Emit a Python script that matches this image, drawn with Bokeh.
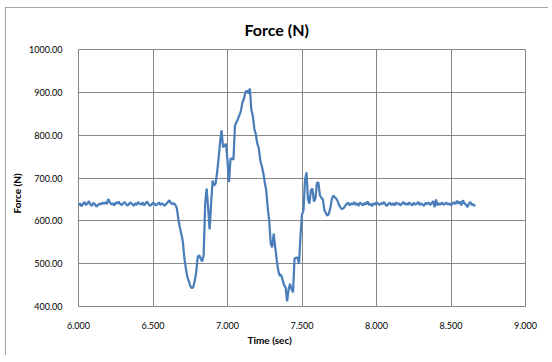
from bokeh.plotting import figure
from bokeh.models import Range1d, FixedTicker, NumeralTickFormatter, Title
from bokeh.embed import file_html
from bokeh.resources import INLINE

# ---- data ----
t_start = 6.00
t_step = 0.01
force_n = [
    # 6.00 - 6.66 baseline
    636, 641, 634, 639, 644, 637, 640, 646, 638, 635,
    642, 639, 633, 637, 640, 638, 642, 640, 643, 639,
    651, 644, 638, 641, 636, 643, 640, 645, 639, 637,
    641, 644, 638, 636, 640, 643, 639, 635, 641, 637,
    644, 640, 638, 643, 636, 641, 645, 639, 635, 638,
    642, 640, 636, 639, 643, 637, 641, 638, 635, 640,
    644, 648, 642, 639, 641, 637, 630,
    # 6.67 - 7.83 event
    605, 585, 570, 552, 515, 490, 470, 460, 448, 443,
    445, 460, 480, 515, 520, 512, 505, 520, 640, 675,
    630, 580, 640, 694, 682, 687, 712, 745, 783, 811,
    772, 775, 780, 741, 690, 745, 745, 743, 822, 830,
    838, 847, 856, 876, 885, 900, 904, 897, 909, 860,
    845, 815, 802, 780, 770, 741, 728, 712, 690, 671,
    630, 600, 547, 538, 570, 540, 510, 485, 472, 474,
    462, 450, 444, 412, 440, 453, 440, 433, 512, 514,
    514, 500, 565, 615, 624, 694, 713, 650, 640, 672,
    675, 645, 652, 688, 690, 660, 654, 650, 625, 618,
    612, 616, 630, 650, 659, 655, 652, 645, 636, 630,
    627, 630, 635, 640, 642, 636, 641,
    # 7.84 - 8.66 baseline
    638, 644, 637, 641, 635, 643, 639, 636, 642, 638,
    645, 637, 640, 634, 641, 638, 643, 640, 637, 641,
    639, 644, 638, 635, 640, 642, 637, 641, 636, 643,
    639, 641, 636, 640, 644, 638, 641, 637, 643, 639,
    636, 642, 638, 640, 644, 637, 641, 638, 635, 642,
    639, 643, 637, 641, 646, 632, 650, 636, 641, 638,
    643, 637, 640, 642, 638, 641, 636, 640, 643, 639,
    647, 640, 645, 636, 648, 641, 638, 632, 640, 644,
    637, 639, 634,
]
time_s = [round(t_start + t_step * i, 2) for i in range(len(force_n))]

x_ticks = [6.0, 6.5, 7.0, 7.5, 8.0, 8.5, 9.0]
y_ticks = [400, 500, 600, 700, 800, 900, 1000]

title_text = "Force (N)"
x_label = "Time (sec)"
y_label = "Force (N)"

GRID = "#868686"
LINE = "#4A7EBB"
FONT = "Lato"

p = figure(width=543, height=348, output_backend="svg", toolbar_location=None,
           x_range=Range1d(6, 9), y_range=Range1d(400, 1000),
           min_border_left=73, min_border_right=23, min_border_top=42, min_border_bottom=49)
p.styles = {"margin-left": "5px", "margin-top": "7px",
            "outline": "1px solid #868686", "outline-offset": "-1px"}
p.background_fill_color = "white"
p.border_fill_color = "white"
p.outline_line_color = GRID
p.outline_line_width = 1

for ax in (p.xaxis[0], p.yaxis[0]):
    ax.axis_line_color = None
    ax.major_tick_line_color = None
    ax.minor_tick_line_color = None
    ax.major_label_text_font = FONT
    ax.major_label_text_font_size = "9px"
    ax.major_label_text_color = "#000000"
    ax.major_label_standoff = 9

p.xaxis[0].ticker = FixedTicker(ticks=x_ticks)
p.xaxis[0].formatter = NumeralTickFormatter(format="0.000")
p.yaxis[0].ticker = FixedTicker(ticks=y_ticks)
p.yaxis[0].formatter = NumeralTickFormatter(format="0.00")
p.yaxis[0].major_label_standoff = 10

p.xgrid[0].ticker = FixedTicker(ticks=x_ticks)
p.ygrid[0].ticker = FixedTicker(ticks=y_ticks)
for g in (p.xgrid[0], p.ygrid[0]):
    g.grid_line_color = GRID
    g.grid_line_width = 1

p.line(time_s, force_n, line_color=LINE, line_width=2.25)

p.add_layout(Title(text=title_text, align="left", offset=166, standoff=21, text_font=FONT,
                   text_font_size="16px", text_font_style="bold", text_color="#000000"), "above")
p.add_layout(Title(text=x_label, align="left", offset=169, standoff=0, text_font=FONT,
                   text_font_size="10px", text_font_style="bold", text_color="#000000"), "below")
p.add_layout(Title(text=y_label, align="left", offset=93, standoff=7, text_font=FONT,
                   text_font_size="10px", text_font_style="bold", text_color="#000000"), "left")

open("out.html", "w").write(file_html(p, INLINE))
